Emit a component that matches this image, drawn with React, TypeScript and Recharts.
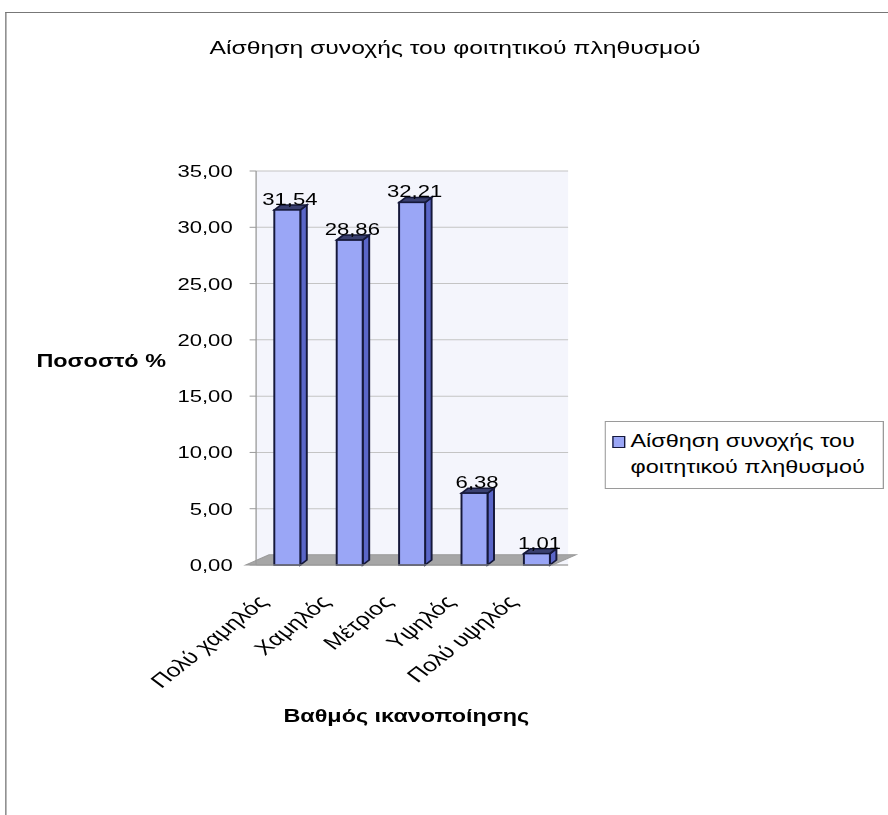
import { Bar, BarChart, CartesianGrid, LabelList, Legend, ReferenceArea, XAxis, YAxis } from "recharts";

const categories = ["Πολύ χαμηλός", "Χαμηλός", "Μέτριος", "Υψηλός", "Πολύ υψηλός"];
const values = [31.54, 28.86, 32.21, 6.38, 1.01];
const yTicks = [0, 5, 10, 15, 20, 25, 30, 35];
const seriesName = "Αίσθηση συνοχής του φοιτητικού πληθυσμού";

const data = categories.map((c, i) => ({ name: c, value: values[i] }));

// the original picture is stretched sideways, so the whole chart is drawn narrow and scaled
const STRETCH = 1.3;
const W = Math.round(888 / STRETCH);

const font = "'Liberation Sans', Arial, sans-serif";
const fmt = (v: number) => v.toFixed(2).replace(".", ",");

function Bar3D(props: any) {
  const { x, y, width, height } = props;
  const d = 5;
  const edge = "#15183a";
  return (
    <g>
      <polygon
        points={`${x + width},${y} ${x + width + d},${y - 5} ${x + width + d},${y + height - 5} ${x + width},${y + height}`}
        fill="#5A66C8"
        stroke={edge}
        strokeWidth={1.5}
      />
      <polygon
        points={`${x},${y} ${x + d},${y - 5} ${x + width + d},${y - 5} ${x + width},${y}`}
        fill="#3a4070"
        stroke={edge}
        strokeWidth={1.5}
      />
      <rect x={x} y={y} width={width} height={height} fill="#9AA6F6" stroke={edge} strokeWidth={1.5} />
    </g>
  );
}

// grey floor under the bars
function Floor(props: any) {
  const { x, y, width, height } = props;
  return (
    <polygon
      points={`${x - 8},${y + height} ${x + width - 12},${y + height} ${x + width + 6},${y} ${x + 10},${y}`}
      fill="#a6a6a6"
      stroke="#9a9a9a"
    />
  );
}

function XTick(props: any) {
  const { x, y, payload } = props;
  return (
    <g transform={`translate(${x - 14},${y + 30})`}>
      <text
        transform="rotate(-46)"
        textAnchor="end"
        fontFamily={font}
        fontSize={19}
        fill="#000"
      >
        {payload.value}
      </text>
    </g>
  );
}

function LegendBox(props: any) {
  const item = props.payload?.[0];
  return (
    <div
      style={{
        border: "1px solid #9a9a9a",
        background: "#fff",
        width: 215,
        padding: "6px 4px 8px 5px",
        fontFamily: font,
        fontSize: 18,
        lineHeight: "26px",
        display: "flex",
        boxSizing: "border-box",
        textAlign: "left",
      }}
    >
      <span
        style={{
          display: "inline-block",
          width: 8,
          height: 10,
          background: "#9AA6F6",
          border: "1px solid #15183a",
          marginTop: 8,
          marginRight: 4,
          flexShrink: 0,
        }}
      />
      <span style={{ color: "#000" }}>{item ? item.value : seriesName}</span>
    </div>
  );
}

export default function App() {
  return (
    <div style={{ position: "absolute", left: 0, top: 0, width: 888, height: 815, background: "#fff", overflow: "hidden" }}>
      <div
        style={{
          position: "absolute",
          left: 0,
          top: 0,
          width: W,
          height: 815,
          transform: `scaleX(${STRETCH})`,
          transformOrigin: "0 0",
        }}
      >
        <div
          style={{
            position: "absolute",
            left: 4,
            top: 12,
            width: W + 20,
            height: 830,
            borderLeft: "1px solid #777",
            borderTop: "1px solid #777",
          }}
        />
        <div
          style={{
            position: "absolute",
            left: 0,
            width: 700,
            top: 37,
            textAlign: "center",
            fontFamily: font,
            fontSize: 19,
          }}
        >
          {seriesName}
        </div>
        <div
          style={{
            position: "absolute",
            left: 28,
            top: 351,
            fontFamily: font,
            fontSize: 18,
            fontWeight: "bold",
          }}
        >
          Ποσοστό %
        </div>
        <div
          style={{
            position: "absolute",
            left: 218,
            top: 706,
            fontFamily: font,
            fontSize: 18,
            fontWeight: "bold",
          }}
        >
          Βαθμός ικανοποίησης
        </div>
        <BarChart
          width={W}
          height={815}
          data={data}
          margin={{ top: 171, right: W - 437, left: 127, bottom: 0 }}
          style={{ position: "absolute", left: 0, top: 0 }}
        >
          <CartesianGrid vertical={false} stroke="#c4c4c4" fill="#F4F5FC" />
          <XAxis
            dataKey="name"
            interval={0}
            tickLine={false}
            axisLine={{ stroke: "#9a9a9a" }}
            height={250}
            tick={XTick}
          />
          <YAxis
            domain={[0, 35]}
            ticks={yTicks}
            tickFormatter={fmt}
            width={70}
            interval={0}
            axisLine={{ stroke: "#9a9a9a" }}
            tickLine={{ stroke: "#9a9a9a" }}
            tickSize={5}
            tickMargin={13}
            tick={{ fontFamily: font, fontSize: 17, fill: "#000" }}
          />
          <ReferenceArea y1={0} y2={0.9} shape={Floor} ifOverflow="visible" />
          <Legend
            layout="horizontal"
            verticalAlign="middle"
            align="center"
            content={LegendBox}
            wrapperStyle={{ left: 465, top: 421, width: 215 }}
          />
          <Bar
            dataKey="value"
            name={seriesName}
            barSize={20}
            fill="#9AA6F6"
            shape={Bar3D}
            isAnimationActive={false}
          >
            <LabelList
              dataKey="value"
              position="top"
              offset={5}
              formatter={(v: any) => fmt(Number(v))}
              style={{ fontFamily: font, fontSize: 17, fill: "#000" }}
              dx={2}
            />
          </Bar>
        </BarChart>
      </div>
    </div>
  );
}
